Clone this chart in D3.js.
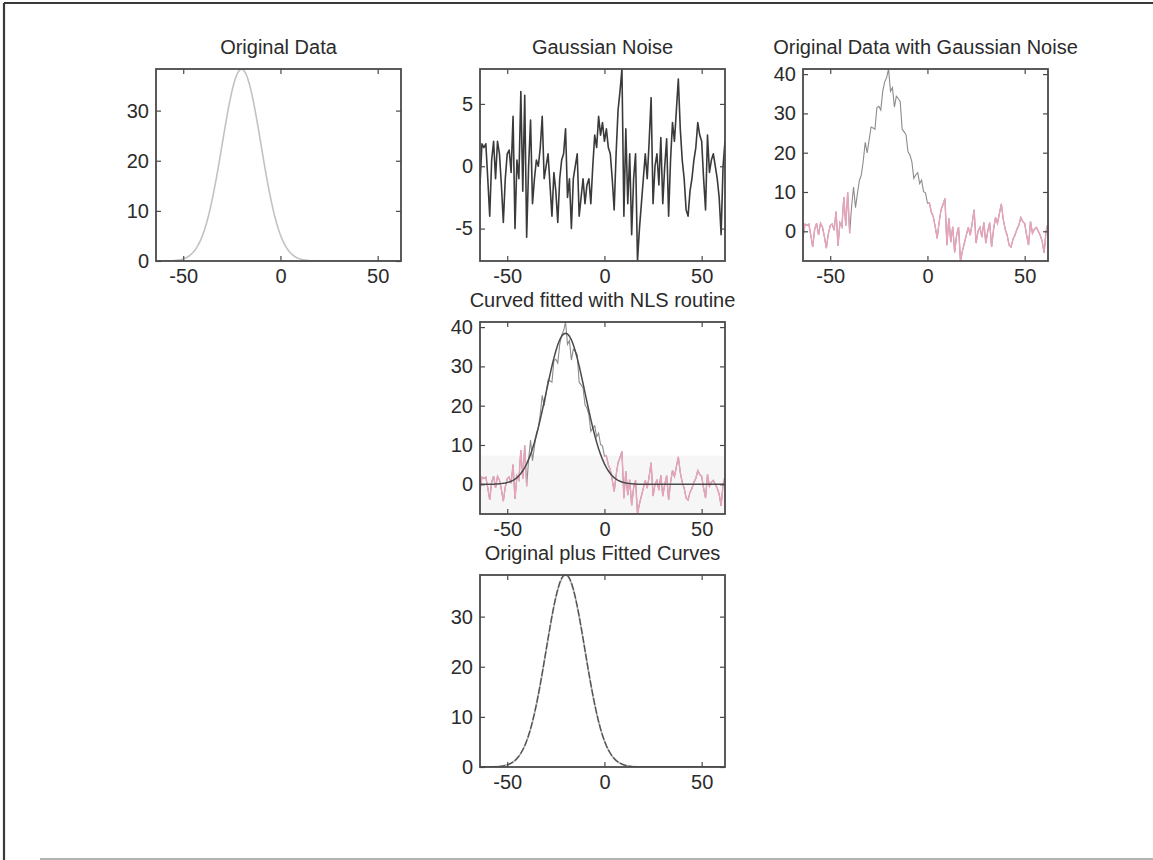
<!DOCTYPE html>
<html>
<head>
<meta charset="utf-8">
<script src="https://cdn.jsdelivr.net/npm/d3@7"></script>
<style>
  body { margin: 0; background: #fff; }
  text { font-family: "Liberation Sans", Arial, Helvetica, sans-serif; }
</style>
</head>
<body>
<svg id="fig" width="1153" height="860"></svg>
<script>
// Sample positions shared by every series
const xValues = d3.range(-64, 63);

// Noise-free Gaussian peak
const originalData = [
  0, 0, 0, 0.01, 0.01, 0.02, 0.03, 0.04, 0.06, 0.08, 0.12, 0.17, 0.23, 0.31, 0.43, 0.57, 0.76,
  1.00, 1.30, 1.68, 2.15, 2.72, 3.41, 4.22, 5.18, 6.30, 7.58, 9.03, 10.65, 12.43, 14.37, 16.45,
  18.64, 20.92, 23.23, 25.55, 27.81, 29.98, 31.99, 33.80, 35.36, 36.62, 37.54, 38.11, 38.30,
  38.11, 37.54, 36.62, 35.36, 33.80, 31.99, 29.98, 27.81, 25.55, 23.23, 20.92, 18.64, 16.45,
  14.37, 12.43, 10.65, 9.03, 7.58, 6.30, 5.18, 4.22, 3.41, 2.72, 2.15, 1.68, 1.30, 1.00, 0.76,
  0.57, 0.43, 0.31, 0.23, 0.17, 0.12, 0.08, 0.06, 0.04, 0.03, 0.02, 0.01, 0.01,
  0, 0, 0, 0, 0, 0, 0, 0, 0, 0, 0, 0, 0, 0, 0, 0, 0, 0, 0, 0, 0,
  0, 0, 0, 0, 0, 0, 0, 0, 0, 0, 0, 0, 0, 0, 0, 0, 0, 0, 0, 0
];

// Additive noise
const gaussianNoise = [
  -1.5, 1.8, 1.5, 1.8, -1, -4, 0.5, 2, -1, 2, 1, -1.5, -4.5, -1, 1, 1.3, -0.5, 4, -5, 0.5,
  -1, 6, -2, 5.7, -5.7, 0, 3.7, -3, -1, 0.5, 0, 1.5, 4, -1, 0, 1, -1.5, -4, -0.5, -2,
  -4.5, -1, 0.5, 1, 3, -2.5, -1, -5, -1, 0, 1, -4, -2.5, -1, -3, -1.5, -1, -3, 0, 2.5,
  1.5, 4, 2.5, 3.5, 2, 3, 1.5, 1, -1, -3.5, 1, 4.5, 6, 7.8, -4, 3, -3, 1, -5.5, -1,
  1, -7.6, -5, -3, -1, 1, -1, 2, 5.5, -3, 0, 1, -1.5, 2.3, -3, 0, 2.2, -4, 0.5, 3.5,
  2, 4.5, 7, 3, 0.5, -1, -3.5, -4, -2, -1, 0.5, 1.5, 3.5, 2.5, 2, -1, -3.5, 2.5, -0.5, 0.5,
  1, 0, -1, -2.5, -5.5, 0, 2
];

// Gaussian returned by the nonlinear least-squares fit
const fittedCurve = [
  0, 0, 0, 0.01, 0.01, 0.02, 0.03, 0.04, 0.06, 0.08, 0.12, 0.17, 0.24, 0.32, 0.44, 0.58, 0.77,
  1.01, 1.31, 1.70, 2.17, 2.74, 3.44, 4.25, 5.21, 6.33, 7.61, 9.07, 10.69, 12.48, 14.43, 16.51,
  18.71, 21.00, 23.32, 25.65, 27.92, 30.10, 32.11, 33.93, 35.50, 36.76, 37.69, 38.26, 38.45,
  38.26, 37.69, 36.76, 35.50, 33.93, 32.11, 30.10, 27.92, 25.65, 23.32, 21.00, 18.71, 16.51,
  14.43, 12.48, 10.69, 9.07, 7.61, 6.33, 5.21, 4.25, 3.44, 2.74, 2.17, 1.70, 1.31, 1.01, 0.77,
  0.58, 0.44, 0.32, 0.24, 0.17, 0.12, 0.08, 0.06, 0.04, 0.03, 0.02, 0.01, 0.01,
  0, 0, 0, 0, 0, 0, 0, 0, 0, 0, 0, 0, 0, 0, 0, 0, 0, 0, 0, 0, 0,
  0, 0, 0, 0, 0, 0, 0, 0, 0, 0, 0, 0, 0, 0, 0, 0, 0, 0, 0, 0
];

const xTicks = [-50, 0, 50];
const yTicksPeak = [0, 10, 20, 30];
const yTicksNoise = [-5, 0, 5];
const yTicksNoisy = [0, 10, 20, 30, 40];
const panelTitles = [
  "Original Data",
  "Gaussian Noise",
  "Original Data with Gaussian Noise",
  "Curved fitted with NLS routine",
  "Original plus Fitted Curves"
];

const n = Math.min(xValues.length, originalData.length, gaussianNoise.length, fittedCurve.length);
const idx = d3.range(n);
const noisyData = idx.map(i => originalData[i] + gaussianNoise[i]);

// Layout of the 3x3 subplot grid
const colX = [156, 480, 803];
const rowY = [69, 322, 575];
const axW = 245, axH = 192;
const xDomain = [-64, 62];
const textColor = "#2b2b2b";
const boxColor = "#4a4a4a";
const plainNumber = d => String(d);   // ASCII hyphen for negatives

const svg = d3.select("#fig");

// Outer figure frame
svg.append("line").attr("x1", 4).attr("y1", 3).attr("x2", 1153).attr("y2", 3)
  .attr("stroke", "#3a3a3a").attr("stroke-width", 2.2);
svg.append("line").attr("x1", 4).attr("y1", 3).attr("x2", 4).attr("y2", 860)
  .attr("stroke", "#3a3a3a").attr("stroke-width", 2.2);
svg.append("line").attr("x1", 40).attr("y1", 859).attr("x2", 1153).attr("y2", 859)
  .attr("stroke", "#9a9a9a").attr("stroke-width", 1.5);

let clipCount = 0;
function makeAxes(col, row, title, yDomain, yTicks) {
  const x0 = colX[col], y0 = rowY[row];
  const g = svg.append("g").attr("transform", `translate(${x0},${y0})`);
  const x = d3.scaleLinear().domain(xDomain).range([0, axW]);
  const y = d3.scaleLinear().domain(yDomain).range([axH, 0]);

  const clipId = "clip" + (clipCount++);
  g.append("clipPath").attr("id", clipId)
    .append("rect").attr("width", axW).attr("height", axH);
  const plot = g.append("g").attr("clip-path", `url(#${clipId})`);

  const styleAxis = sel => {
    sel.select(".domain").remove();
    sel.selectAll(".tick line").attr("stroke", boxColor).attr("stroke-width", 1.2);
    sel.selectAll(".tick text").attr("fill", textColor).style("font-size", "20px")
      .style("font-family", '"Liberation Sans", Arial, sans-serif');
  };
  g.append("g").attr("transform", `translate(0,${axH})`)
    .call(d3.axisBottom(x).tickValues(xTicks).tickFormat(plainNumber)
      .tickSizeInner(-5).tickSizeOuter(0).tickPadding(8))
    .call(styleAxis);
  g.append("g")
    .call(d3.axisTop(x).tickValues(xTicks).tickSizeInner(-5).tickSizeOuter(0).tickFormat(""))
    .call(styleAxis);
  g.append("g")
    .call(d3.axisLeft(y).tickValues(yTicks).tickFormat(plainNumber)
      .tickSizeInner(-5).tickSizeOuter(0).tickPadding(7))
    .call(styleAxis);
  g.append("g").attr("transform", `translate(${axW},0)`)
    .call(d3.axisRight(y).tickValues(yTicks).tickSizeInner(-5).tickSizeOuter(0).tickFormat(""))
    .call(styleAxis);

  g.append("text").attr("x", axW / 2).attr("y", -15)
    .attr("text-anchor", "middle").attr("fill", textColor)
    .style("font-size", "20px").text(title);

  return { g, plot, x, y, drawBox: () =>
    g.append("rect").attr("width", axW).attr("height", axH)
      .attr("fill", "none").attr("stroke", boxColor).attr("stroke-width", 1.8) };
}

function lineFor(ax, values, defined) {
  return d3.line()
    .defined(defined || (() => true))
    .x(i => ax.x(xValues[i]))
    .y(i => ax.y(values[i]));
}

// 1. Original data
{
  const ax = makeAxes(0, 0, panelTitles[0], [0, d3.max(originalData)], yTicksPeak);
  ax.plot.append("path").attr("d", lineFor(ax, originalData)(idx))
    .attr("fill", "none").attr("stroke", "#c2c2c2").attr("stroke-width", 1.6);
  ax.drawBox();
}

// 2. Noise
{
  const ax = makeAxes(1, 0, panelTitles[1], d3.extent(gaussianNoise), yTicksNoise);
  ax.plot.append("path").attr("d", lineFor(ax, gaussianNoise)(idx))
    .attr("fill", "none").attr("stroke", "#3a3a3a").attr("stroke-width", 1.6)
    .attr("stroke-linejoin", "round");
  ax.drawBox();
}

// Noisy series: grey over the peak, pink where the signal is near baseline
function drawNoisy(ax) {
  ax.plot.append("path").attr("d", lineFor(ax, noisyData)(idx))
    .attr("fill", "none").attr("stroke", "#8c8c8c").attr("stroke-width", 1.1);
  ax.plot.append("path")
    .attr("d", lineFor(ax, noisyData, i => originalData[i] < 6)(idx))
    .attr("fill", "none").attr("stroke", "#e8a2bb").attr("stroke-width", 1.4);
}

// 3. Original + noise
{
  const ax = makeAxes(2, 0, panelTitles[2], d3.extent(noisyData), yTicksNoisy);
  drawNoisy(ax);
  ax.drawBox();
}

// 4. NLS fit over the noisy data
{
  const ax = makeAxes(1, 1, panelTitles[3], d3.extent(noisyData), yTicksNoisy);
  ax.plot.append("rect").attr("x", 0).attr("width", axW)
    .attr("y", ax.y(7.3)).attr("height", axH - ax.y(7.3)).attr("fill", "#f6f6f6");
  drawNoisy(ax);
  ax.plot.append("path").attr("d", lineFor(ax, fittedCurve)(idx))
    .attr("fill", "none").attr("stroke", "#4a4a4a").attr("stroke-width", 1.5);
  ax.drawBox();
}

// 5. Original and fitted curves together
{
  const ax = makeAxes(1, 2, panelTitles[4], [0, d3.max(originalData)], yTicksPeak);
  ax.plot.append("path").attr("d", lineFor(ax, originalData)(idx))
    .attr("fill", "none").attr("stroke", "#b8b8b8").attr("stroke-width", 1.8);
  ax.plot.append("path").attr("d", lineFor(ax, fittedCurve)(idx))
    .attr("fill", "none").attr("stroke", "#505050").attr("stroke-width", 1.3)
    .attr("stroke-dasharray", "7,2");
  ax.drawBox();
}
</script>
</body>
</html>
